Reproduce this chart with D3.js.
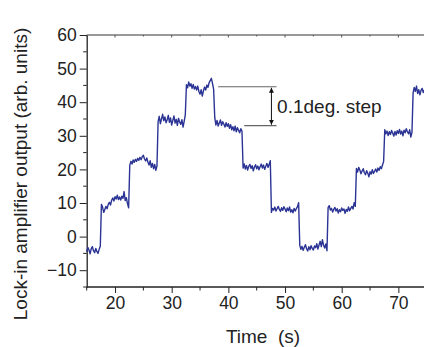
<!DOCTYPE html>
<html>
<head>
<meta charset="utf-8">
<script src="https://cdn.jsdelivr.net/npm/d3@7"></script>
<style>
  body { margin: 0; background: #fff; }
  svg { display: block; font-family: "Liberation Sans", Arial, sans-serif; }
  .axis text { font-size: 17.5px; fill: #222; }
  .axis path, .axis line { stroke: #222; }
</style>
</head>
<body>
<svg id="chart" width="424" height="347"></svg>
<script>
// sampled lock-in output, one value every 0.2 s starting at 15 s
const tStart = 15;
const tStep = 0.2;
const lockIn = [
  -4.5, -3.2, -4.0, -5.1, -3.6, -3.0, -4.2, -4.8, -3.5, -4.4, -5.0, -3.8, -2.9,
  9.6, 8.8, 7.2, 8.1, 9.0, 8.3, 9.6, 10.2, 9.4, 10.8, 11.5, 10.6, 11.9, 11.2, 12.3, 11.0, 11.8, 10.9, 12.0, 11.4, 13.4, 10.7, 11.6, 9.8, 8.6,
  21.2, 22.4, 21.6, 22.8, 22.1, 23.0, 22.4, 23.3, 22.7, 23.6, 22.9, 23.8, 24.2, 23.1, 22.5, 23.4, 22.2, 21.3, 22.6, 20.6, 21.8, 20.2, 21.5, 19.7, 21.0,
  34.2, 35.8, 33.6, 35.0, 36.4, 34.5, 35.6, 33.9, 34.8, 36.1, 34.0, 35.3, 33.2, 34.6, 35.9, 33.8, 34.9, 33.1, 35.2, 34.1, 33.4, 34.8, 32.6, 34.3, 36.2,
  45.2, 44.3, 46.0, 44.8, 45.5, 44.1, 45.3, 43.9, 44.7, 43.6, 44.8, 43.2, 42.4, 43.7, 41.8, 43.4, 44.5, 43.6, 45.1, 44.4, 45.8, 46.4, 47.1, 45.6, 43.8,
  35.4, 33.2, 34.6, 32.9, 33.8, 34.7, 33.1, 34.2, 33.5, 32.6, 33.9, 32.8, 33.6, 32.2, 33.3, 31.8, 32.7, 31.5, 32.9, 31.2, 32.4, 31.6, 30.9, 32.1, 31.4,
  20.4, 21.6, 20.1, 21.2, 19.8, 20.9, 21.5, 20.3, 21.1, 19.6, 20.7, 21.4, 20.2, 21.0, 19.9, 20.8, 21.6, 20.4, 21.3, 20.0, 20.9, 21.8, 20.6, 21.5, 22.6,
  7.2, 8.4, 7.9, 8.8, 7.6, 8.3, 9.0, 8.1, 7.5, 8.6, 7.8, 8.9, 8.2, 7.4, 8.5, 7.7, 8.8, 7.3, 8.0, 7.1, 8.4, 7.6, 8.3, 8.9, 10.1,
  -2.6, -3.8, -2.9, -4.1, -3.2, -2.4, -3.6, -4.3, -3.0, -3.9, -2.7, -3.5, -4.0, -2.8, -3.3, -2.1, -3.7, -2.5, -1.4, -3.0, -0.9, -2.6, -3.4, -2.2, -4.2,
  8.6, 9.2, 7.9, 8.4, 7.3, 8.1, 8.7, 7.6, 8.3, 7.0, 8.0, 7.4, 8.5, 7.8, 8.2, 6.9, 8.1, 7.5, 8.8, 7.7, 8.4, 9.0, 8.2, 10.1, 9.0,
  20.3, 19.2, 20.6, 19.8, 18.7, 19.5, 20.2, 19.0, 18.4, 19.6, 18.9, 17.8, 19.3, 18.6, 19.9, 18.8, 19.4, 20.1, 19.2, 20.4, 19.7, 20.8, 20.2, 21.3, 22.4,
  31.8, 30.6, 31.4, 30.1, 31.2, 30.4, 31.6, 30.8, 29.9, 31.3, 30.2, 31.5, 30.7, 31.9, 30.5, 31.4, 30.0, 31.7, 30.9, 32.1, 31.2, 30.6, 31.8, 29.6, 31.0,
  42.8, 44.4, 43.2, 44.8, 42.6, 43.7, 42.2, 43.5, 44.1, 42.9, 43.6, 42.4, 43.3
];

const xTicks = [20, 30, 40, 50, 60, 70];
const xMinor = [15, 25, 35, 45, 55, 65, 75];
const yTicks = [-10, 0, 10, 20, 30, 40, 50, 60];
const yMinor = [-15, -5, 5, 15, 25, 35, 45, 55];

// step annotation (data units)
const stepTop = 44.6;
const stepBottom = 33.0;
const stepLabel = '0.1deg. step';

const margin = { top: 35, left: 86.7, bottom: 60 };
const svg = d3.select('#chart');
const width = 340;   // plot runs past the right edge of the picture
const height = 252;

const x = d3.scaleLinear().domain([15, 75]).range([margin.left, margin.left + width]);
const y = d3.scaleLinear().domain([-15, 60]).range([margin.top + height, margin.top]);

const data = lockIn.map((v, i) => ({ t: tStart + i * tStep, v: v }));

// top frame line (grey) with small inward marks
svg.append('line')
  .attr('x1', x(15)).attr('x2', x(75))
  .attr('y1', y(60)).attr('y2', y(60))
  .attr('stroke', '#777').attr('stroke-width', 1.3);
svg.append('g').selectAll('line')
  .data(xTicks.concat(xMinor))
  .enter().append('line')
  .attr('x1', d => x(d)).attr('x2', d => x(d))
  .attr('y1', y(60)).attr('y2', d => y(60) + (xTicks.includes(d) ? 2.5 : 1.5))
  .attr('stroke', '#555');

// minor ticks
svg.append('g').selectAll('line')
  .data(xMinor)
  .enter().append('line')
  .attr('x1', d => x(d)).attr('x2', d => x(d))
  .attr('y1', y(-15)).attr('y2', y(-15) + 3.5)
  .attr('stroke', '#222');
svg.append('g').selectAll('line')
  .data(yMinor)
  .enter().append('line')
  .attr('x1', x(15) - 3.5).attr('x2', x(15))
  .attr('y1', d => y(d)).attr('y2', d => y(d))
  .attr('stroke', '#222');

const xAxis = d3.axisBottom(x).tickValues(xTicks).tickSize(6).tickPadding(4).tickSizeOuter(0);
const yAxis = d3.axisLeft(y).tickValues(yTicks).tickSize(7).tickPadding(3).tickSizeOuter(0);

const gX = svg.append('g')
  .attr('class', 'axis')
  .attr('transform', `translate(0,${y(-15)})`)
  .call(xAxis);
gX.select('.domain').attr('d', `M${x(15)},0H${x(75)}`).attr('stroke-width', 1.3);

const gY = svg.append('g')
  .attr('class', 'axis')
  .attr('transform', `translate(${x(15)},0)`)
  .call(yAxis);
gY.select('.domain').attr('stroke-width', 1.3);

// the trace
const line = d3.line().x(d => x(d.t)).y(d => y(d.v));
svg.append('path')
  .datum(data)
  .attr('fill', 'none')
  .attr('stroke', '#2b3494')
  .attr('stroke-width', 1.4)
  .attr('stroke-linejoin', 'round')
  .attr('d', line);

// annotation
svg.append('line')
  .attr('x1', x(38.2)).attr('x2', x(48.5))
  .attr('y1', y(stepTop)).attr('y2', y(stepTop))
  .attr('stroke', '#666').attr('stroke-width', 1.2);
svg.append('line')
  .attr('x1', x(42.8)).attr('x2', x(48.5))
  .attr('y1', y(stepBottom)).attr('y2', y(stepBottom))
  .attr('stroke', '#666').attr('stroke-width', 1.2);

const defs = svg.append('defs');
defs.append('marker')
  .attr('id', 'arr')
  .attr('viewBox', '0 0 10 10')
  .attr('refX', 10).attr('refY', 5)
  .attr('markerWidth', 5).attr('markerHeight', 7)
  .attr('orient', 'auto-start-reverse')
  .attr('markerUnits', 'userSpaceOnUse')
  .append('path')
  .attr('d', 'M0,0L10,5L0,10z')
  .attr('fill', '#111');
svg.append('line')
  .attr('x1', x(47.6)).attr('x2', x(47.6))
  .attr('y1', y(stepTop) + 1).attr('y2', y(stepBottom) - 1)
  .attr('stroke', '#111').attr('stroke-width', 1)
  .attr('marker-start', 'url(#arr)')
  .attr('marker-end', 'url(#arr)');

svg.append('text')
  .attr('x', x(48.6))
  .attr('y', y(36.8))
  .attr('font-size', 19)
  .attr('fill', '#222')
  .text(stepLabel);

// axis titles
svg.append('text')
  .attr('x', 263)
  .attr('y', 343)
  .attr('text-anchor', 'middle')
  .attr('font-size', 19)
  .attr('fill', '#222')
  .style('white-space', 'pre')
  .text('Time  (s)');

svg.append('text')
  .attr('transform', 'translate(27,174) rotate(-90)')
  .attr('text-anchor', 'middle')
  .attr('font-size', 19)
  .attr('fill', '#222')
  .text('Lock-in amplifier output (arb. units)');
</script>
</body>
</html>
